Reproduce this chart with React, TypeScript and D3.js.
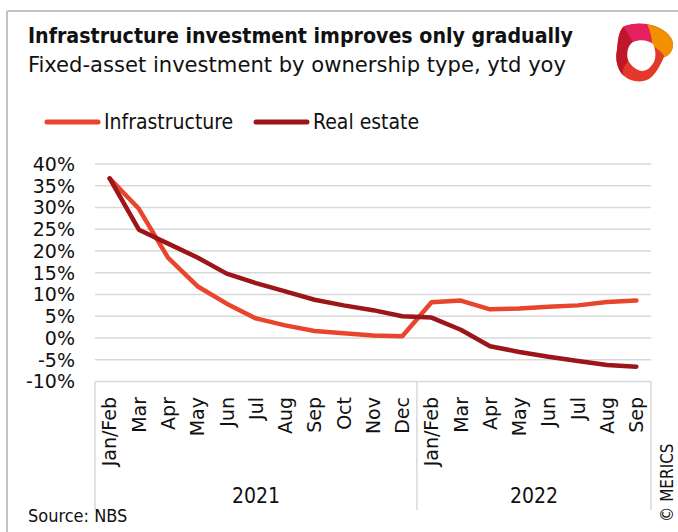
import React from "react";
import * as d3 from "d3";

const title = "Infrastructure investment improves only gradually";
const subtitle = "Fixed-asset investment by ownership type, ytd yoy";
const months2021 = ["Jan/Feb", "Mar", "Apr", "May", "Jun", "Jul", "Aug", "Sep", "Oct", "Nov", "Dec"];
const months2022 = ["Jan/Feb", "Mar", "Apr", "May", "Jun", "Jul", "Aug", "Sep"];
const years = ["2021", "2022"];
const infrastructure = [36.7, 29.7, 18.4, 11.9, 7.9, 4.5, 2.9, 1.6, 1.1, 0.6, 0.4, 8.2, 8.6, 6.6, 6.8, 7.2, 7.5, 8.3, 8.6];
const realEstate = [36.7, 24.9, 21.7, 18.5, 14.8, 12.6, 10.7, 8.8, 7.5, 6.4, 5.0, 4.7, 1.9, -1.9, -3.2, -4.3, -5.3, -6.2, -6.6];
const yTicks = [40, 35, 30, 25, 20, 15, 10, 5, 0, -5, -10];
const seriesNames = ["Infrastructure", "Real estate"];
const colors = ["#e8452c", "#9c1519"];

const COND = "'DejaVu Sans Condensed', 'DejaVu Sans', sans-serif";
const SANS = "'DejaVu Sans', Verdana, sans-serif";

export default function App() {
  const W = 678, H = 532;
  const left = 95, right = 651, top = 164, bottom = 381.5, boxBottom = 510;
  const cats = [...months2021.map((m) => "2021-" + m), ...months2022.map((m) => "2022-" + m)];
  const labels = [...months2021, ...months2022];
  const x = d3.scaleBand<string>().domain(cats).range([left, right]);
  const cx = (i: number) => (x(cats[i]) as number) + x.bandwidth() / 2;
  const y = d3.scaleLinear().domain([-10, 40]).range([bottom, top]);
  const line = d3
    .line<number>()
    .x((_, i) => cx(i))
    .y((d) => y(d))
    .curve(d3.curveLinear);
  const divider = x(cats[months2021.length]) as number;
  const yearCenters = [(left + divider) / 2, (divider + right) / 2];
  const series = [infrastructure, realEstate];
  const legendX = [45, 254];

  return (
    <svg
      width={W}
      height={H}
      style={{ position: "absolute", left: 0, top: 0, background: "#fff" }}
    >
      <rect x={0} y={0} width={W} height={H} fill="#fff" />
      {/* frame */}
      <line x1={7} y1={11} x2={W} y2={11} stroke="#c3c3c3" strokeWidth={2} />
      <line x1={7} y1={11} x2={7} y2={H} stroke="#c3c3c3" strokeWidth={2} />

      {/* titles */}
      <text x={28} y={43} fontFamily={COND} fontWeight="bold" fontSize={22} fill="#111" textLength={545} lengthAdjust="spacingAndGlyphs">
        {title}
      </text>
      <text x={28} y={72} fontFamily={COND} fontSize={22} fill="#111" textLength={538} lengthAdjust="spacingAndGlyphs">
        {subtitle}
      </text>

      {/* logo */}
      <g>
        <path d="M623.6,26.5 C632,23 645,23 655,26 C666,30 674,38 673,46 C672,52 668,56 664,57 C660,66 656,74 649,79 C642,83 630,82 624,76 C617,70 615,58 617,50 C618,42 618,32 623.6,26.5 Z" fill="#e3392a" />
        <path d="M645,24 C656,25 668,31 672,40 C675,48 671,55 665,57 C662,52 657,48 652,46 C652,38 650,30 645,24 Z" fill="#f29100" />
        <path d="M623.6,26.5 C632,23 640,23 647,24 C650,30 652,38 652,45 C645,42 638,42 634,44 C628,40 624,34 623.6,26.5 Z" fill="#e4205f" />
        <path d="M623.6,26.5 C628,34 632,40 634,44 C629,50 628,57 629,60 C624,66 621,71 624,76 C617,70 615,58 617,50 C618,42 618,32 623.6,26.5 Z" fill="#c0162a" />
        <path d="M633,42 C640,39 648,40 653,44 C656,50 656,57 654,62 C651,67 647,71 642,71 C635,70 629,64 627.5,58 C626.5,51 628.5,45 633,42 Z" fill="#fff" />
      </g>

      {/* legend */}
      {seriesNames.map((n, i) => (
        <g key={n}>
          <line x1={legendX[i] + 2} y1={122} x2={legendX[i] + 53} y2={122} stroke={colors[i]} strokeWidth={5} strokeLinecap="round" />
          <text x={legendX[i] + 59} y={129} fontFamily={COND} fontSize={21} fill="#111">
            {n}
          </text>
        </g>
      ))}

      {/* gridlines */}
      {yTicks.map((t) => (
        <line key={"g" + t} x1={left} x2={right} y1={y(t)} y2={y(t)} stroke="#d9d9d9" strokeWidth={1.5} />
      ))}
      {/* category box */}
      {[left, divider, right].map((xx, i) => (
        <line key={"v" + i} x1={xx} x2={xx} y1={bottom} y2={boxBottom} stroke="#d9d9d9" strokeWidth={1.5} />
      ))}

      {/* y tick labels */}
      {yTicks.map((t) => (
        <text key={"t" + t} x={75} y={y(t)} dy="0.36em" textAnchor="end" fontFamily={SANS} fontSize={19} fill="#111">
          {t + "%"}
        </text>
      ))}

      {/* category labels */}
      {labels.map((l, i) => (
        <text
          key={"c" + i}
          transform={`translate(${cx(i)},${397}) rotate(-90)`}
          dy="0.36em"
          textAnchor="end"
          fontFamily={SANS}
          fontSize={19}
          fill="#111"
        >
          {l}
        </text>
      ))}
      {years.map((yr, i) => (
        <text key={yr} x={yearCenters[i]} y={503} textAnchor="middle" fontFamily={COND} fontSize={21} fill="#111">
          {yr}
        </text>
      ))}

      {/* lines */}
      {series.map((s, i) => (
        <path key={"s" + i} d={line(s) || ""} fill="none" stroke={colors[i]} strokeWidth={4.5} strokeLinejoin="round" strokeLinecap="round" />
      ))}

      {/* footer */}
      <text x={28} y={522} fontFamily={COND} fontSize={18} fill="#111">
        Source: NBS
      </text>
      <text transform={`translate(${667},${522}) rotate(-90)`} dy="0.35em" fontFamily={COND} fontSize={17} fill="#111">
        © MERICS
      </text>
    </svg>
  );
}
